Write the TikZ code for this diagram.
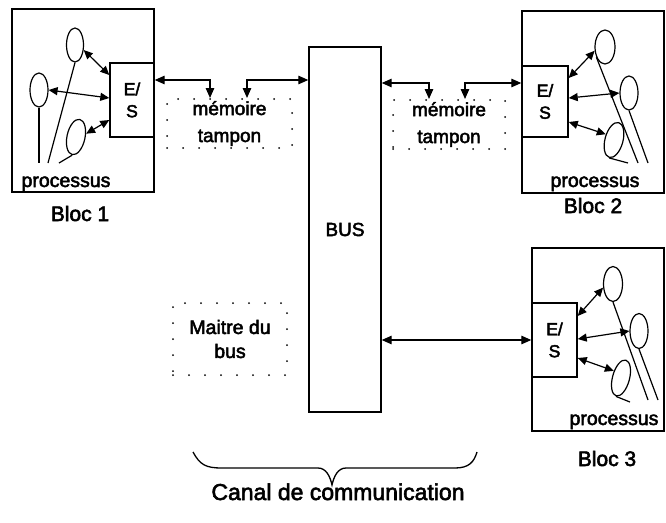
\documentclass[tikz,border=0pt]{standalone}
\usepackage{fontspec}
\setmainfont{Liberation Sans}[FakeBold=2.6]
\usetikzlibrary{arrows.meta,shapes.geometric}
\begin{document}
\begin{tikzpicture}[x=1pt,y=-1pt,
  blockbox/.style={draw, line width=1.4pt, inner sep=0pt, rectangle},
  iobox/.style={draw, line width=1.4pt, inner sep=0pt, rectangle, fill=white,
    align=center, font=\fontsize{17.5}{22}\selectfont},
  buffer/.style={draw, line width=2pt, dash pattern=on 0pt off 16pt, line cap=round,
    inner sep=0pt, align=center, font=\fontsize{19}{27}\selectfont},
  link/.style={line width=1.3pt, {Triangle[length=10pt,width=8.5pt]}-{Triangle[length=10pt,width=8.5pt]}},
  arr/.style={line width=1.2pt, {Triangle[length=9pt,width=8pt]}-{Triangle[length=9pt,width=8pt]}},
  proc/.style={ellipse, draw, line width=1.2pt, inner sep=0pt},
  thread/.style={line width=1.2pt},
  lbl/.style={font=\fontsize{21}{24}\selectfont, anchor=base},
  plbl/.style={font=\fontsize{19.5}{22}\selectfont, anchor=base},
]
\useasboundingbox (0,0) rectangle (666,522);

% ---- blocks
\node[blockbox, minimum width=142pt, minimum height=183pt] (b1) at (83,100.5) {};
\node[blockbox, minimum width=142pt, minimum height=182pt] (b2) at (593,102) {};
\node[blockbox, minimum width=132pt, minimum height=183pt] (b3) at (598,339.5) {};

% ---- input/output boxes
\node[iobox, minimum width=44pt, minimum height=74pt] (es1) at (132,100) {E/\\S};
\node[iobox, minimum width=46pt, minimum height=71pt] (es2) at (545,101.5) {E/\\S};
\node[iobox, minimum width=45pt, minimum height=74pt] (es3) at (554.5,340) {E/\\S};

% ---- bus
\node[blockbox, minimum width=72pt, minimum height=365pt,
  font=\fontsize{19}{22}\selectfont] (bus) at (345,229.5) {BUS};

% ---- buffers and bus master
\node[buffer, minimum width=125pt, minimum height=49pt] (mem1) at (229.5,123.5) {mémoire\\tampon};
\node[buffer, minimum width=112pt, minimum height=49pt] (mem2) at (449,124.5) {mémoire\\tampon};
\node[buffer, minimum width=114pt, minimum height=72pt,
  font=\fontsize{19.5}{24}\selectfont] (master) at (230,339) {Maitre du\\bus};

% ---- labels
\node[plbl] (pr1) at (66,187) {processus};
\node[plbl] (pr2) at (595,187) {processus};
\node[plbl] (pr3) at (614,425) {processus};
\node[lbl] (l1) at (80,221) {Bloc 1};
\node[lbl] (l2) at (593,213) {Bloc 2};
\node[lbl] (l3) at (607,466) {Bloc 3};
\node[font=\fontsize{23}{26}\selectfont, anchor=base] (canal) at (338,500) {Canal de communication};

% ---- links through the buffers
\draw[link] ([yshift=20pt]es1.east) -| ([xshift=44pt]mem1.north west);
\draw[link] ([xshift=81pt]mem1.north west) |- ([yshift=20pt]bus.west |- es1.east);
\draw[link] ([yshift=18.5pt]bus.east |- es2.west) -| ([xshift=37pt]mem2.north west);
\draw[link] ([xshift=73pt]mem2.north west) |- ([yshift=18.5pt]es2.west);
\draw[link] (bus.east |- es3.west) -- (es3.west);

% ---- processes of block 1
\node[proc, minimum width=17pt, minimum height=34pt] (p1a) at (75,45) {};
\node[proc, minimum width=18pt, minimum height=34pt] (p1b) at (39,90) {};
\node[proc, minimum width=18pt, minimum height=36pt, rotate=-12] (p1c) at (76,137) {};
\coordinate (f1a) at (39,163);
\coordinate (f1b) at (48,163);
\coordinate (f1c) at (59,163);
\draw[thread] (p1b.south) -- (f1a);
\draw[thread] (p1a.south) -- (f1b);
\draw[thread] (p1c.south) -- (f1c);
\draw[arr] ([yshift=25pt]es1.west) -- (p1a.-30);
\draw[arr] ([yshift=2pt]es1.west) -- (p1b.east);
\draw[arr] ([yshift=-20pt]es1.west) -- (p1c.30);

% ---- processes of block 2
\node[proc, minimum width=20pt, minimum height=34pt] (p2a) at (605,47) {};
\node[proc, minimum width=18pt, minimum height=34pt] (p2b) at (629,93) {};
\node[proc, minimum width=18pt, minimum height=36pt, rotate=-15] (p2c) at (614,140) {};
\coordinate (f2a) at (638,163);
\coordinate (f2b) at (648,163);
\coordinate (f2c) at (628,163);
\draw[thread] (p2a.230) -- (f2a);
\draw[thread] (p2b.south) -- (f2b);
\draw[thread] (p2c.south) -- (f2c);
\draw[arr] ([yshift=23.5pt]es2.east) -- (p2a.200);
\draw[arr] ([yshift=3.5pt]es2.east) -- (p2b.west);
\draw[arr] ([yshift=-20.5pt]es2.east) -- (p2c.160);

% ---- processes of block 3
\node[proc, minimum width=19pt, minimum height=35pt] (p3a) at (613,284) {};
\node[proc, minimum width=18pt, minimum height=35pt] (p3b) at (639,331) {};
\node[proc, minimum width=17pt, minimum height=37pt, rotate=-15] (p3c) at (621,378) {};
\coordinate (f3a) at (648,400);
\coordinate (f3b) at (658,400);
\coordinate (f3c) at (630,402);
\draw[thread] (p3a.south) -- (f3a);
\draw[thread] (p3b.south) -- (f3b);
\draw[thread] (p3c.south) -- (f3c);
\draw[arr] ([yshift=24pt]es3.east) -- (p3a.200);
\draw[arr] ([yshift=1pt]es3.east) -- (p3b.west);
\draw[arr] ([yshift=-18pt]es3.east) -- (p3c.150);

% ---- brace over the communication channel
\draw[line width=1.3pt] (193,452) .. controls (200,465) and (206,468) .. (222,468)
  -- (318,468) .. controls (326,468) and (330,476) .. (332,485)
  .. controls (334,476) and (338,468) .. (346,468)
  -- (455,468) .. controls (469,468) and (474,462) .. (477,452);
\end{tikzpicture}
\end{document}
